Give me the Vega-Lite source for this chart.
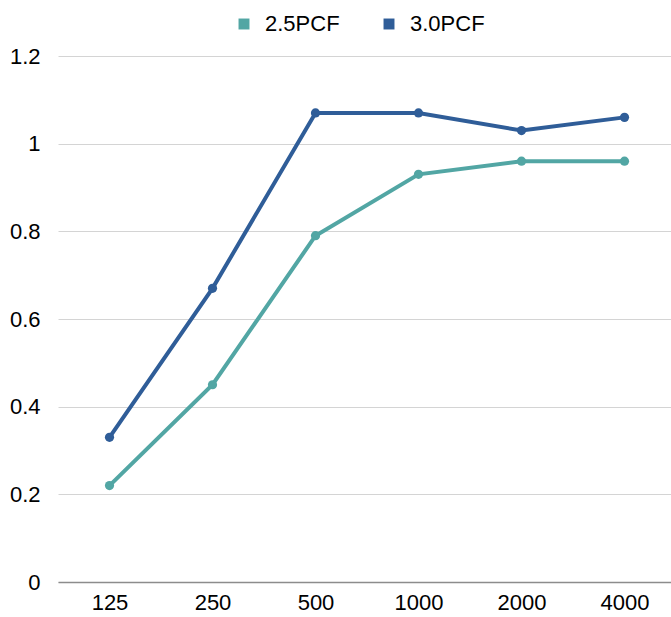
{
  "$schema": "https://vega.github.io/schema/vega-lite/v6.json",
  "width": 618,
  "height": 526,
  "autosize": "none",
  "padding": {"left": 58, "top": 56, "right": 0, "bottom": 35},
  "background": "white",
  "config": {
    "view": {"stroke": null},
    "font": "Liberation Sans",
    "axis": {"labelFont": "Liberation Sans", "labelFontSize": 22, "labelColor": "#000000"}
  },
  "data": {
    "values": [
      {"x": "125", "s": "2.5PCF", "v": 0.22},
      {"x": "250", "s": "2.5PCF", "v": 0.45},
      {"x": "500", "s": "2.5PCF", "v": 0.79},
      {"x": "1000", "s": "2.5PCF", "v": 0.93},
      {"x": "2000", "s": "2.5PCF", "v": 0.96},
      {"x": "4000", "s": "2.5PCF", "v": 0.96},
      {"x": "125", "s": "3.0PCF", "v": 0.33},
      {"x": "250", "s": "3.0PCF", "v": 0.67},
      {"x": "500", "s": "3.0PCF", "v": 1.07},
      {"x": "1000", "s": "3.0PCF", "v": 1.07},
      {"x": "2000", "s": "3.0PCF", "v": 1.03},
      {"x": "4000", "s": "3.0PCF", "v": 1.06}
    ]
  },
  "encoding": {
    "x": {
      "field": "x", "type": "ordinal",
      "sort": ["125", "250", "500", "1000", "2000", "4000"],
      "scale": {"padding": 0.5},
      "axis": {"title": null, "labelAngle": 0, "ticks": false, "domainColor": "#8c8c8c", "domainWidth": 1.5, "labelPadding": 10, "grid": false}
    },
    "y": {
      "field": "v", "type": "quantitative",
      "scale": {"domain": [0, 1.2], "nice": false},
      "axis": {"title": null, "values": [0, 0.2, 0.4, 0.6, 0.8, 1, 1.2], "format": "~g", "ticks": false, "domain": false, "gridColor": "#d4d4d4", "gridWidth": 1, "labelPadding": 18}
    },
    "color": {
      "field": "s", "type": "nominal",
      "scale": {"domain": ["2.5PCF", "3.0PCF"], "range": ["#52a6a4", "#2f5d98"]},
      "legend": {
        "title": null, "orient": "none", "direction": "horizontal",
        "legendX": 175, "legendY": -43,
        "symbolType": "square", "symbolSize": 120, "symbolStrokeWidth": 0,
        "labelFont": "Liberation Sans", "labelFontSize": 22, "labelColor": "#000000",
        "columnPadding": 38, "labelOffset": 10
      }
    }
  },
  "layer": [
    {"mark": {"type": "line", "strokeWidth": 4}},
    {"mark": {"type": "point", "filled": true, "size": 85, "opacity": 1}}
  ]
}
